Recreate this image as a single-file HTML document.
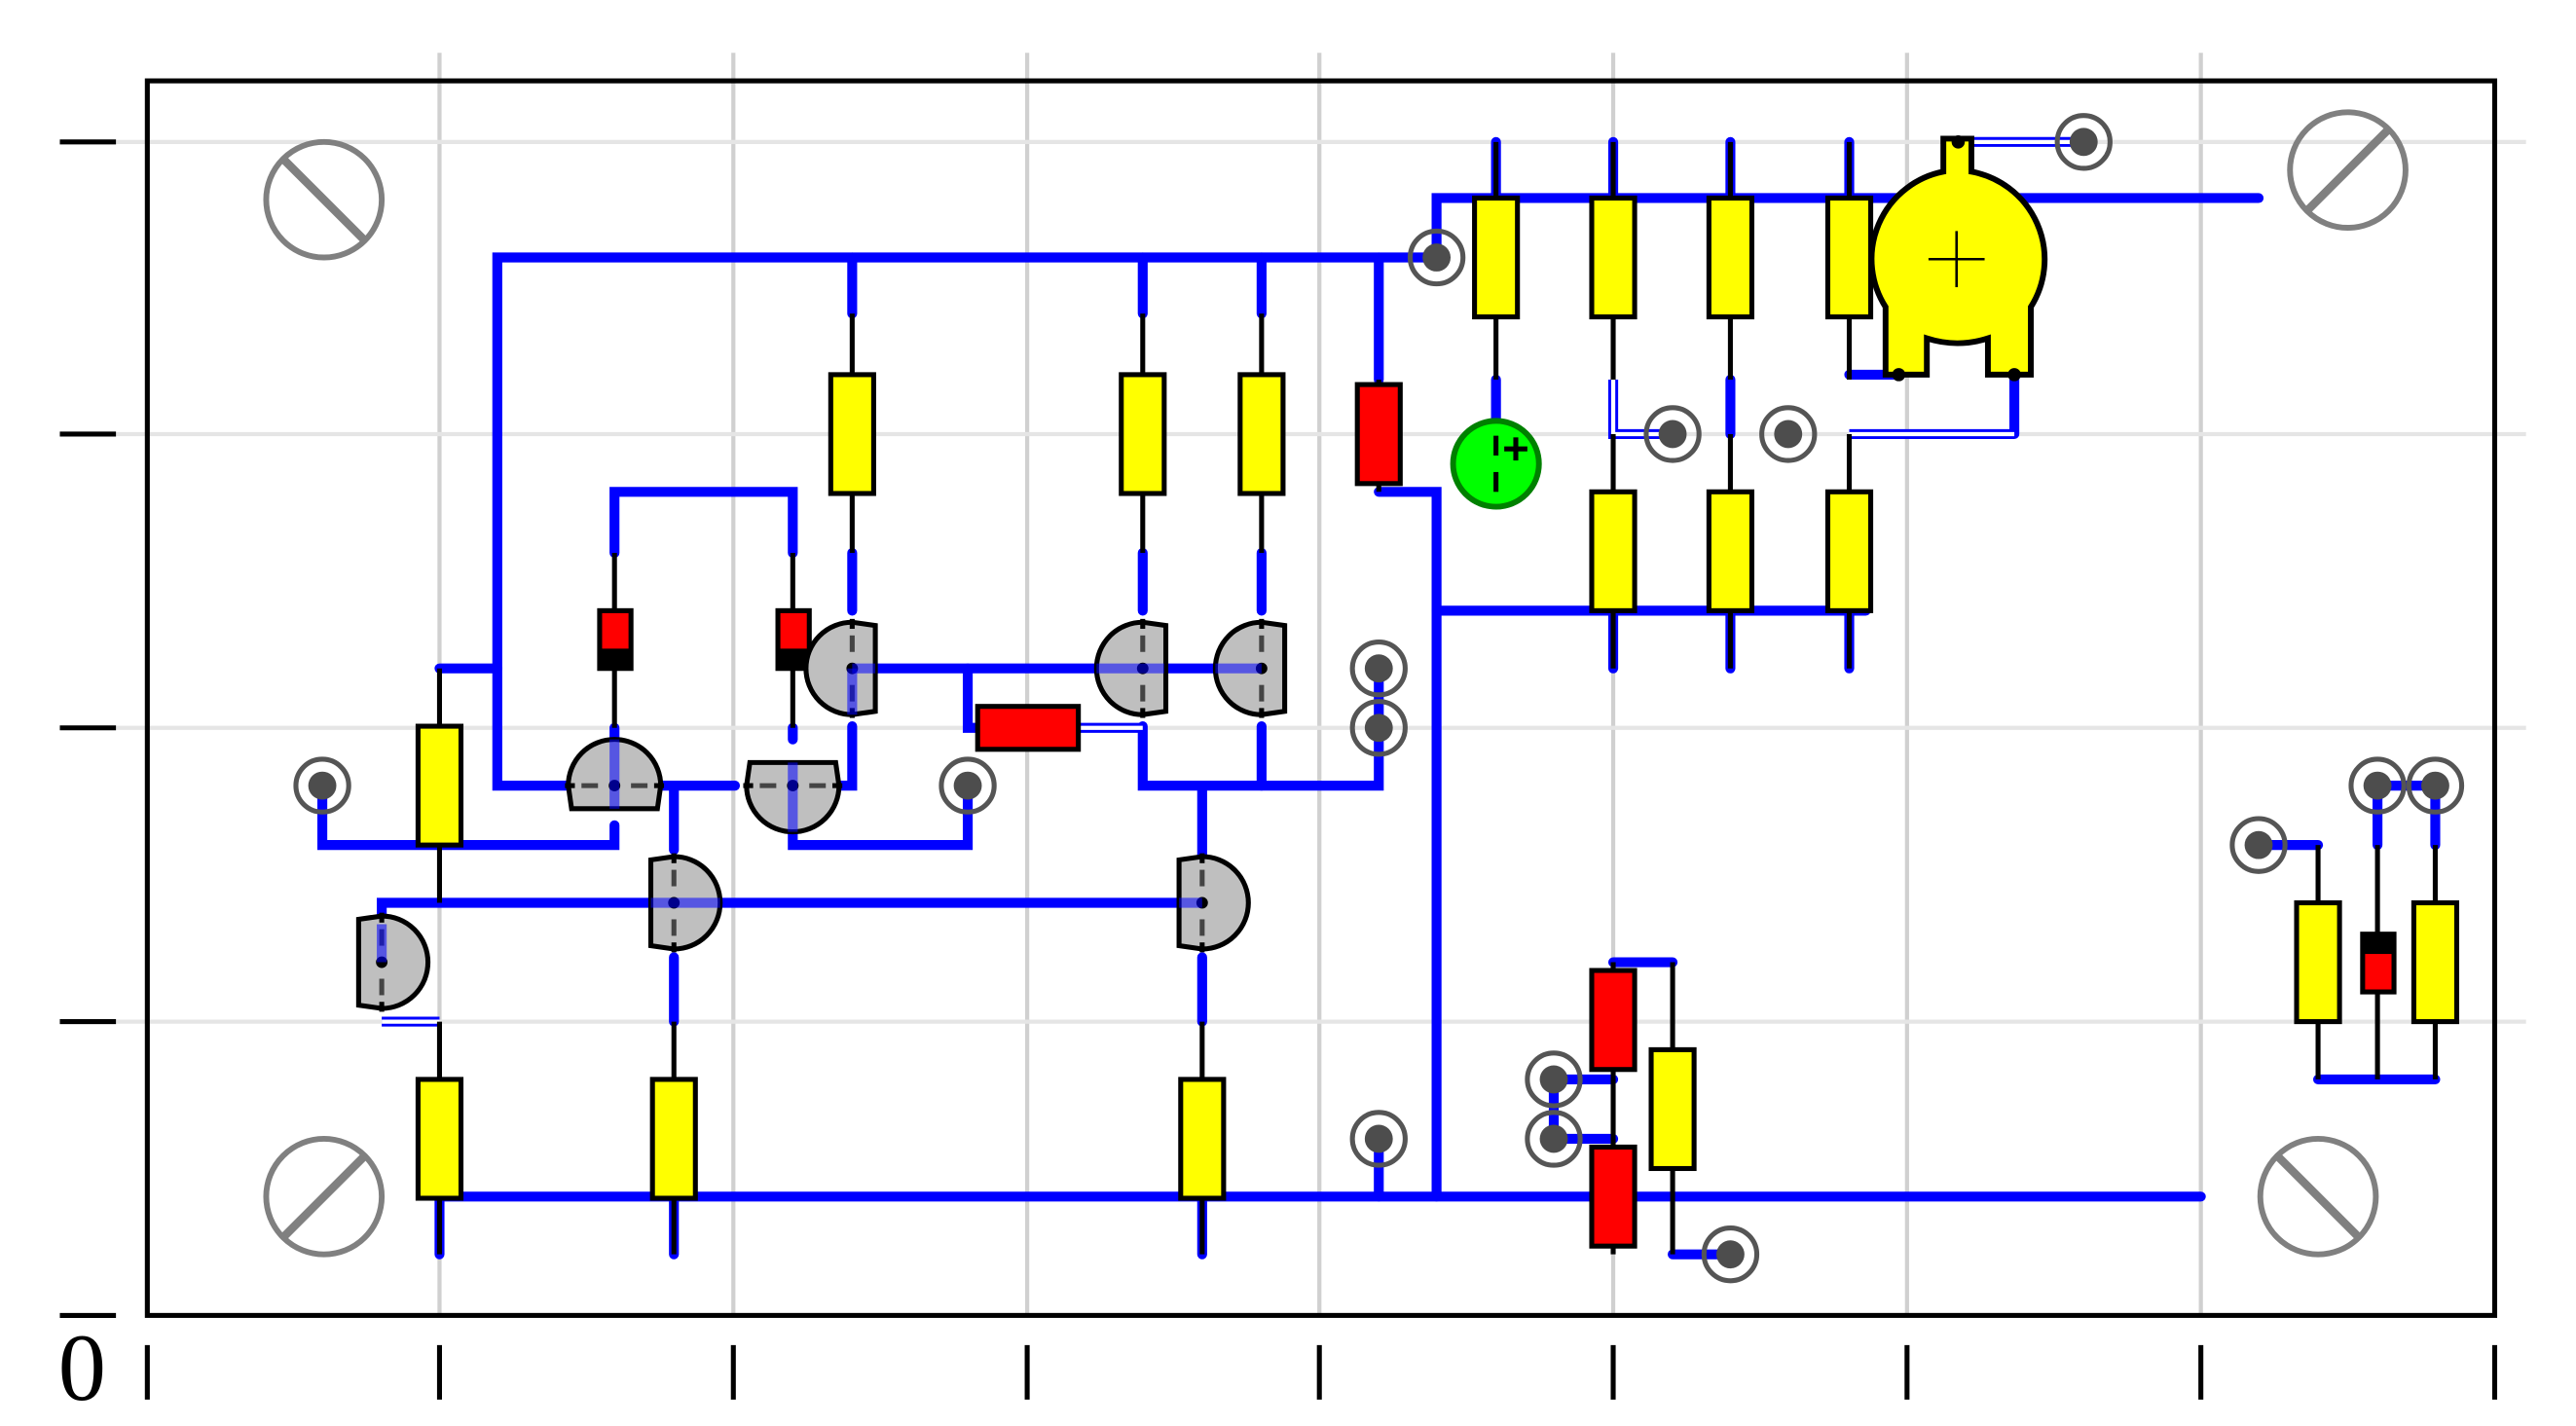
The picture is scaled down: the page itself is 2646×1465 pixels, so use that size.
<!DOCTYPE html>
<html><head><meta charset="utf-8"><style>
html,body{margin:0;padding:0;background:#fff;width:2646px;height:1465px;overflow:hidden}
svg{display:block}
</style></head><body>
<svg width="2646" height="1465" viewBox="0 0 1560 864" xmlns="http://www.w3.org/2000/svg">
<defs>
<g id="tr"><path d="M-28,0 A28,28 0 0 1 28,0 L26,14 L-26,14 Z" fill="#bfbfbf" stroke="#000" stroke-width="3"/>
<line x1="-20" y1="0" x2="-10" y2="0" stroke="#444" stroke-width="3"/><line x1="10" y1="0" x2="20" y2="0" stroke="#444" stroke-width="3"/>
<line x1="-30" y1="0" x2="-24" y2="0" stroke="#000" stroke-width="3"/><line x1="24" y1="0" x2="30" y2="0" stroke="#000" stroke-width="3"/>
<circle r="3.5" fill="#000"/></g>
<g id="pin"><circle r="16" fill="none" stroke="#555" stroke-width="3"/><circle r="8.5" fill="#4d4d4d"/></g>
<g id="ry"><rect x="-13" y="-36" width="26" height="72" fill="#ff0" stroke="#000" stroke-width="3"/></g>
<g id="rr"><rect x="-13" y="-30" width="26" height="60" fill="#f00" stroke="#000" stroke-width="3"/></g>
<g id="scr"><circle r="35" fill="none" stroke="#808080" stroke-width="3.5"/></g>
</defs>
<g stroke="#d0d0d0" stroke-width="2.5">
<line x1="266" y1="32" x2="266" y2="797"/><line x1="444" y1="32" x2="444" y2="797"/><line x1="622" y1="32" x2="622" y2="797"/><line x1="799" y1="32" x2="799" y2="797"/><line x1="977" y1="32" x2="977" y2="797"/><line x1="1155" y1="32" x2="1155" y2="797"/><line x1="1333" y1="32" x2="1333" y2="797"/>
</g>
<g stroke="#e5e5e5" stroke-width="2.5">
<line x1="70" y1="86" x2="1530" y2="86"/><line x1="70" y1="263" x2="1530" y2="263"/><line x1="70" y1="441" x2="1530" y2="441"/><line x1="70" y1="619" x2="1530" y2="619"/>
</g>
<rect x="89" y="49" width="1422" height="748" fill="none" stroke="#000" stroke-width="3"/>
<g stroke="#000" stroke-width="3">
<line x1="36" y1="86" x2="70" y2="86"/><line x1="36" y1="263" x2="70" y2="263"/><line x1="36" y1="441" x2="70" y2="441"/><line x1="36" y1="619" x2="70" y2="619"/><line x1="36" y1="797" x2="70" y2="797"/>
<line x1="89" y1="815" x2="89" y2="848"/><line x1="266" y1="815" x2="266" y2="848"/><line x1="444" y1="815" x2="444" y2="848"/><line x1="622" y1="815" x2="622" y2="848"/><line x1="799" y1="815" x2="799" y2="848"/><line x1="977" y1="815" x2="977" y2="848"/><line x1="1155" y1="815" x2="1155" y2="848"/><line x1="1333" y1="815" x2="1333" y2="848"/><line x1="1511" y1="815" x2="1511" y2="848"/>
</g>
<text x="35" y="848" font-family="Liberation Serif, serif" font-size="58">0</text>
<g stroke="#808080" stroke-width="5">
<use href="#scr" x="196" y="121"/><line x1="172" y1="97" x2="220" y2="145"/>
<use href="#scr" x="1422" y="103"/><line x1="1398" y1="127" x2="1446" y2="79"/>
<use href="#scr" x="196" y="725"/><line x1="172" y1="749" x2="220" y2="701"/>
<use href="#scr" x="1404" y="725"/><line x1="1380" y1="701" x2="1428" y2="749"/>
</g>
<g fill="none" stroke="#00f" stroke-width="6" stroke-linecap="round" stroke-linejoin="miter">
<polyline points="870,156 301,156 301,476 345,476"/>
<line x1="266" y1="405" x2="301" y2="405"/>
<line x1="516" y1="156" x2="516" y2="190"/><line x1="692" y1="156" x2="692" y2="190"/><line x1="764" y1="156" x2="764" y2="190"/><line x1="835" y1="156" x2="835" y2="230"/>
<polyline points="870,156 870,120 1368,120"/>
<line x1="906" y1="86" x2="906" y2="120"/><line x1="977" y1="86" x2="977" y2="120"/><line x1="1048" y1="86" x2="1048" y2="120"/><line x1="1120" y1="86" x2="1120" y2="120"/>
<line x1="906" y1="230" x2="906" y2="260"/>
<line x1="1048" y1="230" x2="1048" y2="263"/>
<polyline points="835,298 870,298 870,725"/>
<line x1="870" y1="370" x2="1130" y2="370"/>
<line x1="977" y1="370" x2="977" y2="405"/><line x1="1048" y1="370" x2="1048" y2="405"/><line x1="1120" y1="370" x2="1120" y2="405"/>
<line x1="1120" y1="227" x2="1150" y2="227"/><line x1="1220" y1="227" x2="1220" y2="263"/>
<polyline points="372,335 372,298 480,298 480,335"/>
<line x1="516" y1="335" x2="516" y2="370"/><line x1="692" y1="335" x2="692" y2="370"/><line x1="764" y1="335" x2="764" y2="370"/>
<line x1="516" y1="405" x2="764" y2="405"/>
<polyline points="586,405 586,441 592,441"/>
<polyline points="692,440 692,476 835,476 835,405"/>
<line x1="764" y1="440" x2="764" y2="476"/>
<line x1="728" y1="476" x2="728" y2="520"/>
<line x1="372" y1="441" x2="372" y2="448"/>
<polyline points="400,476 445,476"/>
<polyline points="408,476 408,515"/>
<polyline points="480,441 480,448"/>
<polyline points="516,440 516,476 508,476"/>
<polyline points="480,500 480,512 586,512 586,476"/>
<polyline points="195,476 195,512 372,512 372,500"/>
<polyline points="231,560 231,547 728,547"/>
<line x1="408" y1="580" x2="408" y2="619"/><line x1="728" y1="580" x2="728" y2="619"/>
<line x1="266" y1="725" x2="1333" y2="725"/>
<line x1="266" y1="725" x2="266" y2="760"/><line x1="408" y1="725" x2="408" y2="760"/><line x1="728" y1="725" x2="728" y2="760"/>
<line x1="835" y1="690" x2="835" y2="725"/>
<polyline points="977,583 1013,583"/>
<polyline points="941,654 977,654"/><polyline points="941,690 977,690"/><line x1="941" y1="654" x2="941" y2="690"/>
<line x1="1013" y1="760" x2="1048" y2="760"/>
<polyline points="1368,512 1404,512"/>
<polyline points="1440,512 1440,476 1475,476 1475,512"/>
<line x1="1404" y1="654" x2="1475" y2="654"/>
</g>
<g fill="none" stroke="#00f" stroke-width="6"><polyline points="1186,86 1262,86"/><polyline points="977,230 977,263 1013,263"/><polyline points="1120,263 1220,263"/><polyline points="653,441 692,441"/><polyline points="231,619 266,619"/></g>
<g fill="none" stroke="#fff" stroke-width="2.5"><polyline points="1186,86 1262,86"/><polyline points="977,230 977,263 1013,263"/><polyline points="1120,263 1220,263"/><polyline points="653,441 692,441"/><polyline points="231,619 266,619"/></g>
<g stroke="#000" stroke-width="3">
<line x1="516" y1="190" x2="516" y2="335"/><line x1="692" y1="190" x2="692" y2="335"/><line x1="764" y1="190" x2="764" y2="335"/><line x1="835" y1="230" x2="835" y2="298"/>
<line x1="906" y1="86" x2="906" y2="230"/><line x1="977" y1="86" x2="977" y2="230"/><line x1="1048" y1="86" x2="1048" y2="230"/><line x1="1120" y1="86" x2="1120" y2="230"/>
<line x1="977" y1="263" x2="977" y2="405"/><line x1="1048" y1="263" x2="1048" y2="405"/><line x1="1120" y1="263" x2="1120" y2="405"/>
<line x1="372" y1="335" x2="372" y2="441"/><line x1="480" y1="335" x2="480" y2="441"/>
<line x1="266" y1="405" x2="266" y2="547"/><line x1="266" y1="619" x2="266" y2="760"/><line x1="408" y1="619" x2="408" y2="760"/><line x1="728" y1="619" x2="728" y2="760"/>
<line x1="977" y1="583" x2="977" y2="760"/><line x1="1013" y1="583" x2="1013" y2="760"/>
<line x1="1404" y1="512" x2="1404" y2="654"/><line x1="1440" y1="512" x2="1440" y2="654"/><line x1="1475" y1="512" x2="1475" y2="654"/>
</g>
<use href="#ry" x="516" y="263"/><use href="#ry" x="692" y="263"/><use href="#ry" x="764" y="263"/>
<use href="#rr" x="835" y="263"/>
<use href="#ry" x="906" y="156"/><use href="#ry" x="977" y="156"/><use href="#ry" x="1048" y="156"/><use href="#ry" x="1120" y="156"/>
<use href="#ry" x="977" y="334"/><use href="#ry" x="1048" y="334"/><use href="#ry" x="1120" y="334"/>
<use href="#ry" x="266" y="476"/><use href="#ry" x="266" y="690"/><use href="#ry" x="408" y="690"/><use href="#ry" x="728" y="690"/>
<use href="#rr" x="977" y="618"/><use href="#rr" x="977" y="725"/><use href="#ry" x="1013" y="672"/>
<use href="#ry" x="1404" y="583"/><use href="#ry" x="1475" y="583"/>
<rect x="592" y="428" width="61" height="26" fill="#f00" stroke="#000" stroke-width="3"/>
<rect x="363" y="370" width="19" height="35" fill="#f00" stroke="#000" stroke-width="3"/><rect x="363" y="393" width="19" height="12" fill="#000"/>
<rect x="471" y="370" width="19" height="35" fill="#f00" stroke="#000" stroke-width="3"/><rect x="471" y="393" width="19" height="12" fill="#000"/>
<rect x="1431" y="566" width="19" height="35" fill="#f00" stroke="#000" stroke-width="3"/><rect x="1431" y="566" width="19" height="12" fill="#000"/>
<use href="#tr" transform="translate(372,476)"/>
<use href="#tr" transform="translate(480,476) rotate(180)"/>
<use href="#tr" transform="translate(516,405) rotate(-90)"/>
<use href="#tr" transform="translate(692,405) rotate(-90)"/>
<use href="#tr" transform="translate(764,405) rotate(-90)"/>
<use href="#tr" transform="translate(408,547) rotate(90)"/>
<use href="#tr" transform="translate(728,547) rotate(90)"/>
<use href="#tr" transform="translate(231,583) rotate(90)"/>
<g stroke="#0000ff" stroke-opacity="0.55" stroke-width="6">
<line x1="372" y1="448" x2="372" y2="490"/><line x1="480" y1="462" x2="480" y2="504"/><line x1="516" y1="405" x2="530" y2="405"/><line x1="516" y1="405" x2="516" y2="433"/>
<line x1="664" y1="405" x2="705" y2="405"/><line x1="736" y1="405" x2="764" y2="405"/><line x1="394" y1="547" x2="436" y2="547"/><line x1="714" y1="547" x2="728" y2="547"/><line x1="231" y1="560" x2="231" y2="583"/>
</g>
<circle cx="906" cy="281" r="26" fill="#0f0" stroke="#008000" stroke-width="3.5"/>
<g stroke="#000" stroke-width="3"><line x1="906" y1="264" x2="906" y2="276"/><line x1="906" y1="286" x2="906" y2="298"/><line x1="911" y1="272" x2="925" y2="272"/><line x1="918" y1="265" x2="918" y2="279"/></g>
<path d="M1177,84 L1194,84 L1194,104 A54,54 0 0 1 1230,186 L1230,227 L1204,227 L1204,205 A60,60 0 0 1 1167,205 L1167,227 L1142,227 L1142,186 A54,54 0 0 1 1177,104 Z" fill="#ff0" stroke="#000" stroke-width="3.5"/>
<g stroke="#000" stroke-width="1.5"><line x1="1168" y1="157" x2="1202" y2="157"/><line x1="1185" y1="140" x2="1185" y2="174"/></g>
<circle cx="1186" cy="86" r="4" fill="#000"/><circle cx="1150" cy="227" r="4" fill="#000"/><circle cx="1220" cy="227" r="4" fill="#000"/>
<use href="#pin" x="1262" y="86"/><use href="#pin" x="870" y="156"/><use href="#pin" x="1013" y="263"/><use href="#pin" x="1083" y="263"/>
<use href="#pin" x="835" y="405"/><use href="#pin" x="835" y="441"/><use href="#pin" x="195" y="476"/><use href="#pin" x="586" y="476"/>
<use href="#pin" x="835" y="690"/><use href="#pin" x="941" y="654"/><use href="#pin" x="941" y="690"/><use href="#pin" x="1048" y="760"/>
<use href="#pin" x="1368" y="512"/><use href="#pin" x="1440" y="476"/><use href="#pin" x="1475" y="476"/>
</svg>
</body></html>
